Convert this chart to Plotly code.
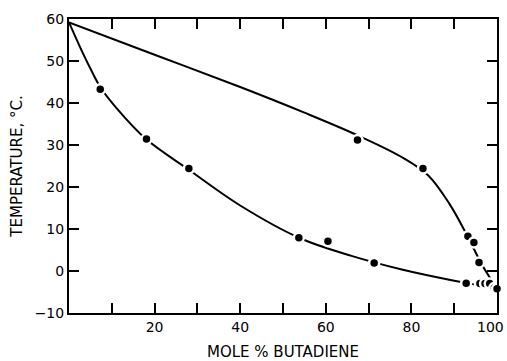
import plotly.graph_objects as go

# Vapor (upper) curve
upper_x = [0, 20, 40, 55, 67, 77.6, 84, 89, 93, 96.5, 100]
upper_y = [59.2, 51.5, 43.8, 37.7, 32.5, 27.2, 22.7, 15.8, 8.5, 1.5, -4.2]

# Liquid (lower) curve
lower_x = [0, 2.5, 5, 7.3, 11, 18, 28, 40, 54, 66, 78, 90, 100]
lower_y = [59.2, 53.5, 48.2, 43.8, 38.9, 31.4, 24.1, 15.6, 7.8, 3.6, 0.3, -2.3, -4.1]

# Measured points
pts_x = [7.3, 18.1, 28.0, 53.7, 60.5, 71.3, 67.4, 82.7, 93.2, 94.6, 95.8, 92.8, 96.0, 97.2, 98.3, 99.4, 100.0]
pts_y = [43.3, 31.4, 24.4, 7.9, 7.1, 1.9, 31.2, 24.4, 8.3, 6.8, 2.0, -2.9, -3.0, -3.0, -3.0, -4.0, -4.2]

x_ticks = [0, 10, 20, 30, 40, 50, 60, 70, 80, 90, 100]
x_labels = ["", "", "20", "", "40", "", "60", "", "80", "", ""]
x_end_label = "100"
y_ticks = [-10, 0, 10, 20, 30, 40, 50, 60]

fig = go.Figure()
fig.add_trace(go.Scatter(x=upper_x, y=upper_y, mode="lines",
                         line=dict(color="black", width=2, shape="spline", smoothing=1.0),
                         hoverinfo="skip"))
fig.add_trace(go.Scatter(x=lower_x, y=lower_y, mode="lines",
                         line=dict(color="black", width=2, shape="spline", smoothing=1.0),
                         hoverinfo="skip"))
fig.add_trace(go.Scatter(x=pts_x, y=pts_y, mode="markers",
                         marker=dict(color="black", size=10, line=dict(color="white", width=2.5)),
                         cliponaxis=False))

# last x tick label, kept inside the page like in the reference
fig.add_annotation(x=100, xref="x", y=0, yref="paper", text=x_end_label,
                   showarrow=False, xanchor="right", yanchor="top",
                   xshift=9, yshift=-4,
                   font=dict(family="DejaVu Sans", size=14, color="black"))

fig.update_layout(
    template="none",
    width=507, height=361,
    margin=dict(l=69, r=10, t=19, b=48),
    paper_bgcolor="white", plot_bgcolor="white",
    showlegend=False,
    font=dict(family="DejaVu Sans", size=14, color="black"),
)
fig.update_xaxes(
    range=[0, 100], tickvals=x_ticks, ticktext=x_labels,
    ticks="inside", ticklen=10, tickwidth=1.5, tickcolor="black",
    showline=True, linecolor="black", linewidth=2, mirror="ticks",
    showgrid=False, zeroline=False,
    tickfont=dict(family="DejaVu Sans", size=14, color="black"),
    title=dict(text="MOLE % BUTADIENE", font=dict(family="DejaVu Sans", size=15, color="black"), standoff=14),
)
fig.update_yaxes(
    range=[-10, 60], tickvals=y_ticks,
    ticks="inside", ticklen=10, tickwidth=1.5, tickcolor="black",
    showline=True, linecolor="black", linewidth=2, mirror="ticks",
    showgrid=False, zeroline=False,
    tickfont=dict(family="DejaVu Sans", size=14, color="black"),
    title=dict(text="TEMPERATURE, °C.", font=dict(family="DejaVu Sans", size=15, color="black"), standoff=8),
)
fig.write_html("out.html")
